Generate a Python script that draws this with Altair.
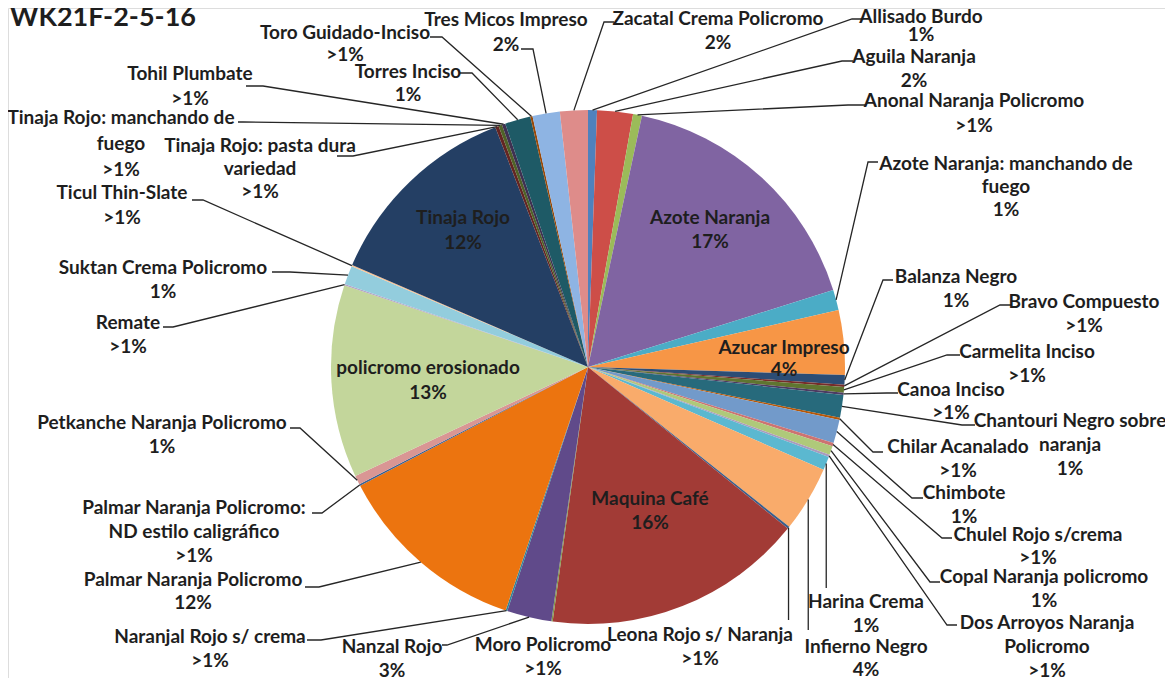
import altair as alt
import pandas as pd
import numpy as np

# ---------------- data ----------------
categories = [
    "Allisado Burdo", "Aguila Naranja", "Anonal Naranja Policromo", "Azote Naranja",
    "Azote Naranja: manchando de fuego", "Azucar Impreso", "Balanza Negro", "Bravo Compuesto",
    "Carmelita Inciso", "Canoa Inciso", "Chantouri Negro sobre naranja", "Chilar Acanalado",
    "Chimbote", "Chulel Rojo s/crema", "Copal Naranja policromo", "Dos Arroyos Naranja Policromo",
    "Harina Crema", "Infierno Negro", "Leona Rojo s/ Naranja", "Maquina Café", "Moro Policromo",
    "Nanzal Rojo", "Naranjal Rojo s/ crema", "Palmar Naranja Policromo",
    "Palmar Naranja Policromo: ND estilo caligráfico", "Petkanche Naranja Policromo",
    "policromo erosionado", "Remate", "Suktan Crema Policromo", "Ticul Thin-Slate", "Tinaja Rojo",
    "Tinaja Rojo: pasta dura variedad", "Tinaja Rojo: manchando de fuego", "Tohil Plumbate",
    "Torres Inciso", "Toro Guidado-Inciso", "Tres Micos Impreso", "Zacatal Crema Policromo",
]
values = [
    0.56, 2.25, 0.56, 16.81, 1.28, 4.06, 0.61, 0.14, 0.36, 0.14, 1.42, 0.14, 1.47, 0.22, 0.56,
    0.14, 0.86, 4.14, 0.14, 16.39, 0.08, 2.81, 0.11, 12.17, 0.11, 0.56, 12.14, 0.08, 1.19, 0.08,
    12.64, 0.22, 0.22, 0.22, 1.61, 0.14, 1.72, 1.75,
]
pct_labels = [
    "1%", "2%", ">1%", "17%", "1%", "4%", "1%", ">1%", ">1%", ">1%", "1%", ">1%", "1%", ">1%", "1%",
    ">1%", "1%", "4%", ">1%", "16%", ">1%", "3%", ">1%", "12%", ">1%", "1%", "13%", ">1%", "1%",
    ">1%", "12%", ">1%", ">1%", ">1%", "1%", ">1%", "2%", "2%",
]
# label text lines (name part, as wrapped in the picture)
name_lines = [
    ["Allisado Burdo"], ["Aguila Naranja"], ["Anonal Naranja Policromo"], ["Azote Naranja"],
    ["Azote Naranja: manchando de", "fuego"], ["Azucar Impreso"], ["Balanza Negro"],
    ["Bravo Compuesto"], ["Carmelita Inciso"], ["Canoa Inciso"], ["Chantouri Negro sobre", "naranja"],
    ["Chilar Acanalado"], ["Chimbote"], ["Chulel Rojo s/crema"], ["Copal Naranja policromo"],
    ["Dos Arroyos Naranja", "Policromo"], ["Harina Crema"], ["Infierno Negro"],
    ["Leona Rojo s/ Naranja"], ["Maquina Café"], ["Moro Policromo"], ["Nanzal Rojo"],
    ["Naranjal Rojo s/ crema"], ["Palmar Naranja Policromo"],
    ["Palmar Naranja Policromo:", "ND estilo caligráfico"], ["Petkanche Naranja Policromo"],
    ["policromo erosionado"], ["Remate"], ["Suktan Crema Policromo"], ["Ticul Thin-Slate"],
    ["Tinaja Rojo"], ["Tinaja Rojo: pasta dura", "variedad"], ["Tinaja Rojo: manchando de", "fuego"],
    ["Tohil Plumbate"], ["Torres Inciso"], ["Toro Guidado-Inciso"], ["Tres Micos Impreso"],
    ["Zacatal Crema Policromo"],
]
title_text = "WK21F-2-5-16"

# ---------------- style / layout ----------------
colors = [
    "#4F81BD", "#CD4E48", "#9BBB59", "#8064A2", "#4BACC6", "#F79646", "#2C4D75", "#772C2A",
    "#5F7530", "#4D3B62", "#276A7C", "#B65708", "#729ACA", "#CD7371", "#AFC97A", "#A99BBD",
    "#5BB8D0", "#F9AB6B", "#3A5F8B", "#A23B36", "#7F9A48", "#604A8A", "#31859C", "#EC740F",
    "#376092", "#D99694", "#C3D69B", "#B3A2C7", "#93CDDD", "#FAC090", "#243F64", "#632523",
    "#4F6228", "#3F3151", "#1E5A66", "#984807", "#8EB4E3", "#DE8C8A",
]
CX, CY, R = 588, 367, 257          # pie centre / radius in page pixels
W, H = 1157, 670                   # drawing area (page minus 8px margin)

# label block centre x, first-line y, line gap
lab_x = [921, 914, 974, 710, 1006, 784, 956, 1084, 1027, 951, 1070, 958, 964, 1038, 1044, 1047,
         866, 866, 700, 650, 543, 392, 210, 193, 194, 162, 428, 128, 163, 122, 463, 260, 121, 190,
         408, 345, 506, 718]
lab_y = [17, 57, 101, 218, 164, 348, 277, 302, 352, 390, 421, 447, 493, 535, 577, 623, 602, 647,
         635, 499, 645, 647, 637, 580, 508, 423, 368, 323, 268, 193, 218, 146, 118, 74, 72, 33, 20,
         19]
lab_gap = [18, 24, 25, 24, 23, 22, 24, 24, 24, 23, 24, 24, 24, 23, 24, 24, 24, 23, 24, 24, 24, 24,
           24, 23, 24, 24, 25, 24, 24, 25, 25, 23, 26, 25, 23, 22, 25, 24]
# leader: anchor point next to the text, stub length (signed), "v" = vertical, None = no line
anc_x = [862, 853, 865, None, 878, None, 893, 1012, 960, 898, 975, 883, 923, 952, 940, 957,
         None, None, None, None, None, 442, 307, 305, 312, 290, None, 163, 272, 192, None, 337,
         238, 246, 460, 430, 521, 614]
anc_y = [19, 61, 105, None, 162, None, 280, 305, 355, 393, 425, 452, 498, 538, 582, 625, 588, 630,
         620, None, None, 645, 640, 587, 513, 428, None, 327, 272, 200, None, 156, 122, 86, 73, 37,
         49, 22]
stub = [-10, -11, -17, None, -10, None, -10, -12, -13, -11, -13, -10, -11, -10, -10, -10, "v", "v",
        "v", None, None, 5, 14, 14, 10, 10, None, 10, 18, 11, None, 16, 5, 17, 12, 12, 12, -10]

# ---------------- build tables ----------------
n = len(categories)
pie_df = pd.DataFrame({"category": categories, "value": values, "order": list(range(n))})

tot = float(sum(values))
cum = np.cumsum([0.0] + values[:-1])
mid = (cum + np.array(values) / 2.0) / tot * 2 * np.pi
px = CX + R * np.sin(mid)
py = CY - R * np.cos(mid)

text_rows = []
for i in range(n):
    lines = name_lines[i] + [pct_labels[i]]
    for j, t in enumerate(lines):
        text_rows.append({"text": t, "x": lab_x[i], "y": lab_y[i] + j * lab_gap[i]})
text_df = pd.DataFrame(text_rows)

line_rows = []
for i in range(n):
    s = stub[i]
    if s is None:
        continue
    if s == "v":
        pts = [(px[i], anc_y[i]), (px[i], py[i])]
    else:
        pts = [(anc_x[i], anc_y[i]), (anc_x[i] + s, anc_y[i]), (px[i], py[i])]
    for k, (a, b) in enumerate(pts):
        line_rows.append({"key": categories[i], "seq": k, "x": float(a), "y": float(b)})
line_df = pd.DataFrame(line_rows)

title_df = pd.DataFrame({"text": [title_text], "x": [10], "y": [18]})

xs = alt.Scale(domain=[8, 8 + W], nice=False, zero=False)
ys = alt.Scale(domain=[8, 8 + H], nice=False, zero=False, reverse=True)

pie = alt.Chart(pie_df).mark_arc(radius=R, stroke=None).encode(
    theta=alt.Theta("value:Q", stack=True),
    color=alt.Color("category:N", scale=alt.Scale(domain=categories, range=colors), legend=None),
    order=alt.Order("order:Q", sort="ascending"),
    x=alt.value(CX - 8),
    y=alt.value(CY - 8),
)

leaders = alt.Chart(line_df).mark_line(color="#262626", strokeWidth=1.3).encode(
    x=alt.X("x:Q", scale=xs, axis=None),
    y=alt.Y("y:Q", scale=ys, axis=None),
    detail="key:N",
    order="seq:Q",
)

labels = alt.Chart(text_df).mark_text(
    font="Lato", fontWeight="bold", fontSize=19, color="#1e1e1e", align="center", baseline="middle"
).encode(
    x=alt.X("x:Q", scale=xs, axis=None),
    y=alt.Y("y:Q", scale=ys, axis=None),
    text="text:N",
)

title = alt.Chart(title_df).mark_text(
    font="Lato", fontWeight="bold", fontSize=27, color="#1e1e1e", align="left", baseline="middle"
).encode(
    x=alt.X("x:Q", scale=xs, axis=None),
    y=alt.Y("y:Q", scale=ys, axis=None),
    text="text:N",
)

chart = alt.layer(pie, leaders, labels, title).properties(
    width=W, height=H, autosize=alt.AutoSizeParams(type="none"), padding=0
).configure_view(strokeWidth=0).configure(background="white")

chart.save("out.html", embed_options={"renderer": "svg", "actions": False})
